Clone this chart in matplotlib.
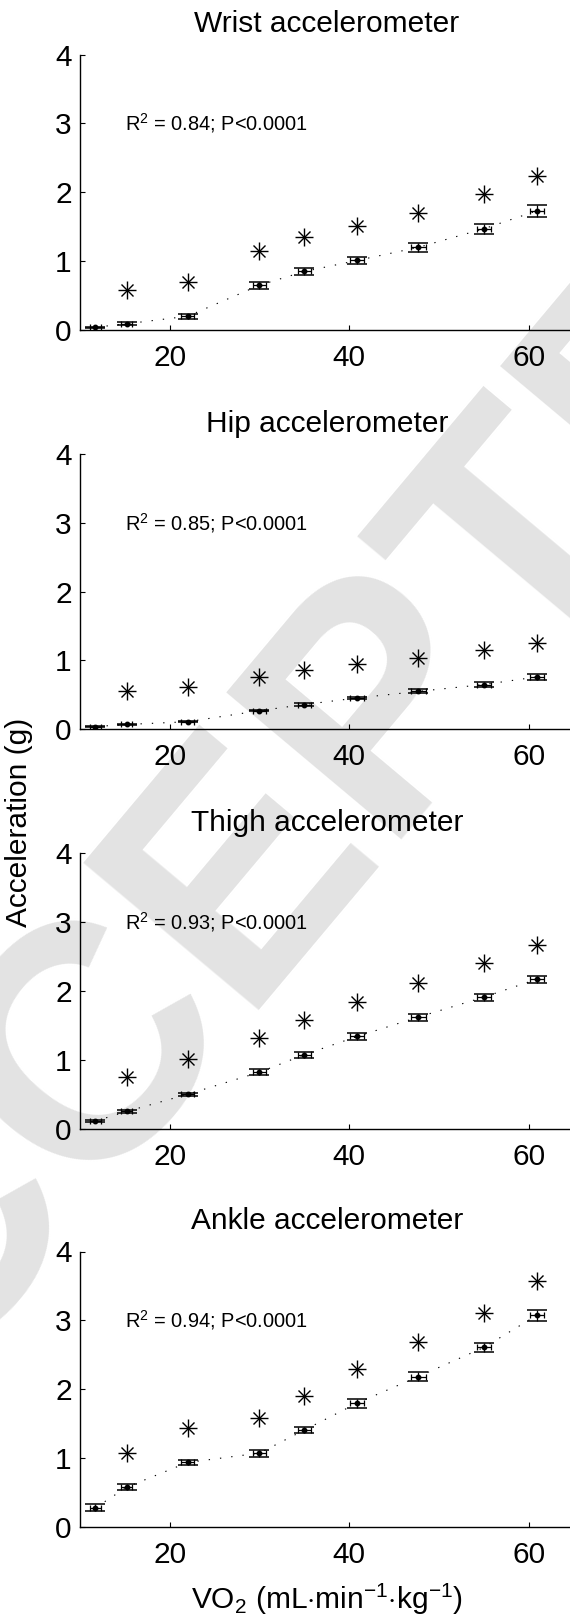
import matplotlib
matplotlib.use('Agg')
import matplotlib.pyplot as plt

plt.rcParams['font.family'] = ['Liberation Sans', 'DejaVu Sans']
plt.rcParams['mathtext.fontset'] = 'custom'
plt.rcParams['mathtext.rm'] = 'Liberation Sans'
plt.rcParams['mathtext.it'] = 'Liberation Sans'
plt.rcParams['mathtext.bf'] = 'Liberation Sans:bold'

# ---- data ----
vo2 = [11.7, 15.2, 22.0, 30.0, 35.0, 40.9, 47.7, 55.0, 60.9]
vo2_err = [0.6, 0.6, 0.7, 0.7, 0.7, 0.8, 0.8, 0.8, 0.8]
star_vo2 = vo2[1:]

titles = ['Wrist accelerometer', 'Hip accelerometer',
          'Thigh accelerometer', 'Ankle accelerometer']
r2_labels = ['0.84', '0.85', '0.93', '0.94']

wrist_mean = [0.04, 0.09, 0.20, 0.65, 0.85, 1.01, 1.20, 1.47, 1.73]
wrist_err = [0.01, 0.02, 0.034, 0.05, 0.056, 0.056, 0.063, 0.073, 0.085]
wrist_star = [0.58, 0.69, 1.15, 1.35, 1.51, 1.70, 1.97, 2.23]

hip_mean = [0.04, 0.07, 0.11, 0.27, 0.36, 0.455, 0.55, 0.65, 0.76]
hip_err = [0.005, 0.005, 0.008, 0.01, 0.015, 0.02, 0.03, 0.03, 0.04]
hip_star = [0.56, 0.61, 0.765, 0.86, 0.95, 1.04, 1.15, 1.26]

thigh_mean = [0.11, 0.25, 0.50, 0.82, 1.075, 1.34, 1.62, 1.91, 2.17]
thigh_err = [0.01, 0.02, 0.025, 0.04, 0.045, 0.05, 0.05, 0.05, 0.05]
thigh_star = [0.755, 1.007, 1.32, 1.58, 1.84, 2.12, 2.41, 2.67]

ankle_mean = [0.277, 0.578, 0.937, 1.073, 1.408, 1.80, 2.184, 2.607, 3.073]
ankle_err = [0.05, 0.045, 0.04, 0.05, 0.05, 0.065, 0.07, 0.068, 0.078]
ankle_star = [1.078, 1.437, 1.578, 1.903, 2.29, 2.68, 3.10, 3.57]

means = [wrist_mean, hip_mean, thigh_mean, ankle_mean]
errs = [wrist_err, hip_err, thigh_err, ankle_err]
stars = [wrist_star, hip_star, thigh_star, ankle_star]

xticks = [20, 40, 60]
yticks = [0, 1, 2, 3, 4]

# ---- figure ----
W, H = 570, 1623
fig = plt.figure(figsize=(W / 100, H / 100), dpi=100)
fig.patch.set_facecolor('white')

# watermark
fig.text(302 / W, 1 - 815 / H, 'ACCEPTED', rotation=50, fontsize=240,
         fontweight='bold', color='#e3e3e3', ha='center', va='center',
         rotation_mode='anchor', zorder=-5)

left = 80 / W
width = 493.6 / W
height = 275.5 / H
bottoms_px = [330, 729.3, 1128.7, 1527]

FS = 21.5
for i in range(4):
    ax = fig.add_axes([left, 1 - bottoms_px[i] / H, width, height])
    ax.set_facecolor('none')
    ax.set_xlim(10, 65)
    ax.set_ylim(0, 4)
    for s in ['top', 'right']:
        ax.spines[s].set_visible(False)
    for s in ['left', 'bottom']:
        ax.spines[s].set_linewidth(1.0)
    ax.set_xticks(xticks)
    ax.set_yticks(yticks)
    ax.tick_params(direction='in', length=3.6, width=0.8, labelsize=FS)
    ax.tick_params(axis='x', pad=10)
    ax.tick_params(axis='y', pad=6)

    # dotted connecting line
    ax.plot(vo2, means[i], color='black', lw=0.8, linestyle=(0, (1.2, 9)),
            zorder=2)
    # vertical error bars with wide caps
    ax.errorbar(vo2, means[i], yerr=errs[i], fmt='none', ecolor='black',
                elinewidth=0.9, capsize=7.2, capthick=1.1, zorder=3)
    # horizontal error bars with small caps
    ax.errorbar(vo2, means[i], xerr=vo2_err, fmt='none', ecolor='black',
                elinewidth=0.9, capsize=2.2, capthick=0.9, zorder=3)
    # mean dot
    ax.plot(vo2, means[i], linestyle='none', marker='o', ms=3.2,
            color='black', zorder=4)
    # asterisks
    ax.plot(star_vo2, stars[i], linestyle='none', marker='+', ms=12.5,
            mew=1.0, color='black', zorder=4)
    ax.plot(star_vo2, stars[i], linestyle='none', marker='x', ms=8.8,
            mew=1.0, color='black', zorder=4)

    ax.text(15.0, 3.0, r'R$^2$ = ' + r2_labels[i] + '; P<0.0001',
            fontsize=14.4, ha='left', va='center')
    ax.set_title(titles[i], fontsize=FS, pad=16)

    if i == 3:
        ax.set_xlabel(r'VO$_2$ (mL$\cdot$min$^{-1}$$\cdot$kg$^{-1}$)',
                      fontsize=FS, labelpad=9)

fig.text(19 / W, 1 - 822 / H, 'Acceleration (g)', rotation=90,
         fontsize=FS, ha='center', va='center')

fig.savefig('out.png', dpi=100)
